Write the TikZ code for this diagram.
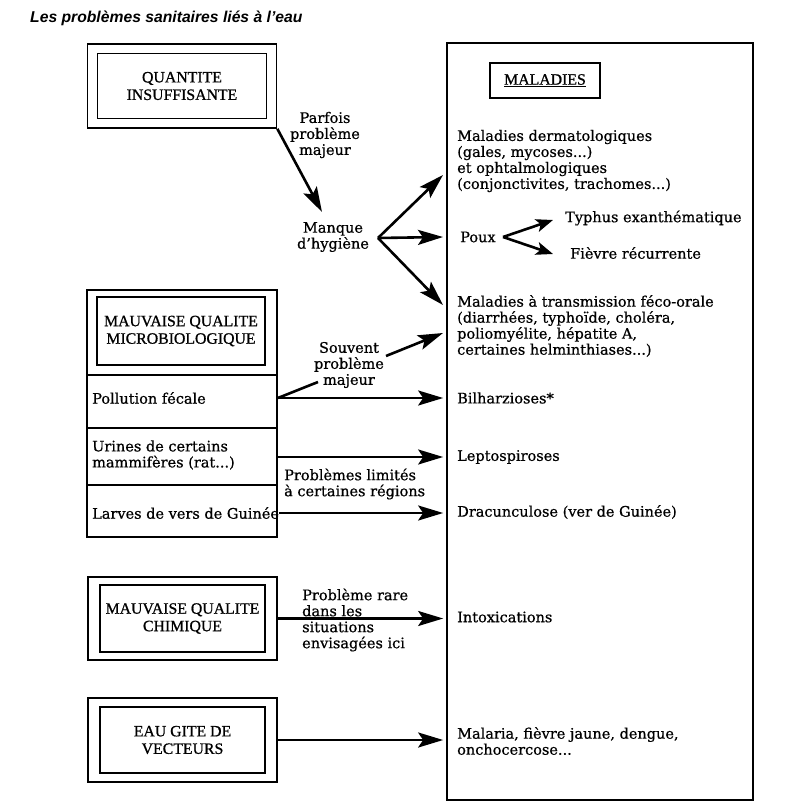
\documentclass[tikz,border=0pt]{standalone}
\usepackage{fontspec}
\setmainfont[FakeBold=0.7,AutoFakeBold=0.7]{DejaVu Serif}
\newfontfamily\boxfont[FakeBold=0.9,AutoFakeBold=0.9]{Liberation Serif}
\newfontfamily\titlefont{Liberation Sans}
\usetikzlibrary{arrows.meta}

\tikzset{
  cadre/.style={draw, line width=1.7pt, inner sep=0pt},
  boite/.style={draw, line width=1.7pt, inner sep=0pt, align=center, font=\boxfont\fontsize{15.8}{17.5}\selectfont},
  txt/.style={anchor=west, align=left, inner sep=0pt, font=\fontsize{14.5}{16}\selectfont},
  lbl/.style={align=center, inner sep=0pt, font=\fontsize{14.5}{16}\selectfont},
  fleche/.style={line width=2.6pt, -{Stealth[length=25pt,width=15pt,inset=5pt]}},
  petite/.style={line width=2.6pt, -{Stealth[length=17pt,width=13pt,inset=4pt]}},
  trait/.style={line width=2.6pt},
}

\begin{document}
\begin{tikzpicture}[x=1pt,y=-1pt]
\useasboundingbox (0,0) rectangle (800,810);

\node[anchor=west, inner sep=0pt, font=\titlefont\bfseries\itshape\fontsize{15.7}{18}\selectfont] (T) at (30,18) {Les problèmes sanitaires liés à l’eau};

% sources
\node[cadre, minimum width=189, minimum height=84] (QO) at (182,86) {};
\node[boite, minimum width=169, minimum height=65] (Q) at (182,86) {QUANTITE\\INSUFFISANTE};

\node[cadre, minimum width=190, minimum height=247] (MO) at (182,413.5) {};
\node[boite, minimum width=168, minimum height=68] (M) at (181,331) {MAUVAISE QUALITE\\MICROBIOLOGIQUE};
\draw[line width=1.7pt] (87,375) -- (277,375);
\draw[line width=1.7pt] (87,428) -- (277,428);
\draw[line width=1.7pt] (87,485) -- (277,485);
\node[txt] (PF) at (92,398) {Pollution fécale};
\node[txt] (UR) at (92,455) {Urines de certains\\mammifères (rat...)};
\node[txt] (LV) at (92,513) {Larves de vers de Guinée};

\node[cadre, minimum width=189, minimum height=83] (CO) at (182.5,618.5) {};
\node[boite, minimum width=165, minimum height=67] (C) at (182.5,618.5) {MAUVAISE QUALITE\\CHIMIQUE};

\node[cadre, minimum width=189, minimum height=84] (EO) at (182.5,740) {};
\node[boite, minimum width=165, minimum height=66] (E) at (182.5,740) {EAU GITE DE\\VECTEURS};

% maladies
\node[cadre, minimum width=306, minimum height=757] (MAL) at (600,421.5) {};
\node[boite, line width=1.3pt, minimum width=110, minimum height=35] (MT) at (545,80.5) {\underline{MALADIES}};

\node[txt] (DERM) at (457,161) {Maladies dermatologiques\\(gales, mycoses...)\\et ophtalmologiques\\(conjonctivites, trachomes...)};
\node[txt] (POUX) at (460,237) {Poux};
\node[txt] (TYPH) at (565,218) {Typhus exanthématique};
\node[txt] (FIEV) at (570,253) {Fièvre récurrente};
\node[txt] (FECO) at (457,326) {Maladies à transmission féco-orale\\(diarrhées, typhoïde, choléra,\\poliomyélite, hépatite A,\\certaines helminthiases...)};
\node[txt] (BILH) at (457,398) {Bilharzioses*};
\node[txt] (LEPT) at (457,457) {Leptospiroses};
\node[txt] (DRAC) at (457,512) {Dracunculose (ver de Guinée)};
\node[txt] (INTX) at (457,617) {Intoxications};
\node[txt] (MALA) at (457,741) {Malaria, fièvre jaune, dengue,\\onchocercose...};

% commentaires
\node[lbl] (PARF) at (325,135) {Parfois\\problème\\majeur};
\node[lbl] (MANQ) at (333,237) {Manque\\d’hygiène};
\node[lbl] (SOUV) at (349,365) {Souvent\\problème\\majeur};
\node[txt] (LIMI) at (284,484) {Problèmes limités\\à certaines régions};
\node[txt] (RARE) at (302,620) {Problème rare\\dans les\\situations\\envisagées ici};

\coordinate (hyg) at (322,212);
\coordinate (mq) at (378,238);
\coordinate (aDERM) at (443,175);
\coordinate (aPOUX) at (443,237);
\coordinate (aFECO) at (443,305);
\coordinate (sv1) at (318,382);
\coordinate (sv2) at (386,356);
\coordinate (sv3) at (443,333);
\coordinate (pv) at (503,237);
\coordinate (aTYPH) at (553,220);
\coordinate (aFIEV) at (553,254);

% fleches
\draw[fleche] (QO.south east) -- (hyg);
\draw[fleche] (mq) -- (aDERM);
\draw[fleche] (mq) -- (aPOUX);
\draw[fleche] (mq) -- (aFECO);
\draw[petite] (pv) -- (aTYPH);
\draw[petite] (pv) -- (aFIEV);
\draw[trait] (MO.east |- PF) -- (sv1);
\draw[fleche] (sv2) -- (sv3);
\draw[fleche, shorten >=3pt] (MO.east |- PF) -- (MAL.west |- PF);
\draw[fleche, shorten >=3pt] (MO.east |- LEPT) -- (MAL.west |- LEPT);
\draw[fleche, shorten >=3pt] (LV.east) -- (MAL.west |- LV);
\draw[fleche, shorten >=3pt] (CO.east) -- (MAL.west |- CO);
\draw[fleche, shorten >=3pt] (EO.east) -- (MAL.west |- EO);
\end{tikzpicture}
\end{document}
